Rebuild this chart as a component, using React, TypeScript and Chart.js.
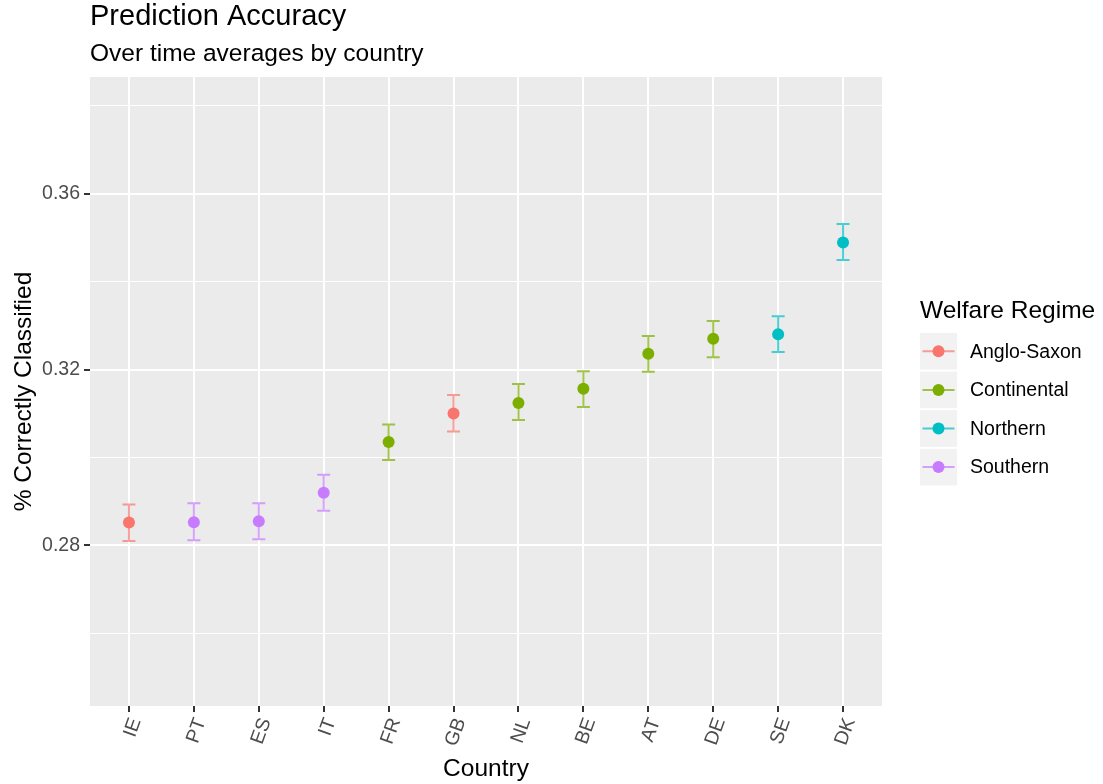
import React, { useEffect, useRef } from 'react';
import { Chart, registerables } from 'chart.js';

Chart.register(...registerables);

const countries = ['IE', 'PT', 'ES', 'IT', 'FR', 'GB', 'NL', 'BE', 'AT', 'DE', 'SE', 'DK'];
const countryRegime = ['Anglo-Saxon', 'Southern', 'Southern', 'Southern', 'Continental', 'Anglo-Saxon', 'Continental', 'Continental', 'Continental', 'Continental', 'Northern', 'Northern'];
const meanAccuracy = [0.2852, 0.2853, 0.2855, 0.2920, 0.3035, 0.3100, 0.3124, 0.3156, 0.3236, 0.3270, 0.3280, 0.3489];
const lowerAccuracy = [0.2810, 0.2812, 0.2814, 0.2879, 0.2994, 0.3059, 0.3085, 0.3115, 0.3195, 0.3228, 0.3240, 0.3449];
const upperAccuracy = [0.2893, 0.2896, 0.2896, 0.2961, 0.3075, 0.3142, 0.3167, 0.3196, 0.3276, 0.3310, 0.3321, 0.3531];
const regimes = ['Anglo-Saxon', 'Continental', 'Northern', 'Southern'];
const regimeColors = ['#F8766D', '#7CAE00', '#00BFC4', '#C77CFF'];
const yTickValues = [0.26, 0.28, 0.30, 0.32, 0.34, 0.36, 0.38];

const FONT = "'Liberation Sans', Arial, sans-serif";

function hexA(hex: string, a: number) {
  const r = parseInt(hex.slice(1, 3), 16);
  const g = parseInt(hex.slice(3, 5), 16);
  const b = parseInt(hex.slice(5, 7), 16);
  return `rgba(${r},${g},${b},${a})`;
}

const isMajor = (v: number) => Math.round(v * 100) % 4 === 0;

const ggPlugin = {
  id: 'ggPlugin',
  beforeDraw(chart: any) {
    const { ctx, chartArea: a } = chart;
    ctx.save();
    ctx.fillStyle = '#EBEBEB';
    ctx.fillRect(a.left, a.top, a.right - a.left, a.bottom - a.top);
    ctx.restore();
  },
  beforeDatasetsDraw(chart: any) {
    const { ctx } = chart;
    const xs = chart.scales.x;
    const ys = chart.scales.y;
    ctx.save();
    ctx.lineWidth = 2;
    countries.forEach((c, i) => {
      const color = regimeColors[regimes.indexOf(countryRegime[i])];
      ctx.strokeStyle = hexA(color, 0.7);
      const x = xs.getPixelForValue(i + 1);
      const yl = ys.getPixelForValue(lowerAccuracy[i]);
      const yu = ys.getPixelForValue(upperAccuracy[i]);
      ctx.beginPath();
      ctx.moveTo(x, yl);
      ctx.lineTo(x, yu);
      ctx.moveTo(x - 6.5, yl);
      ctx.lineTo(x + 6.5, yl);
      ctx.moveTo(x - 6.5, yu);
      ctx.lineTo(x + 6.5, yu);
      ctx.stroke();
    });
    ctx.restore();
  },
  afterDraw(chart: any) {
    const { ctx, chartArea: a } = chart;
    ctx.save();
    ctx.fillStyle = '#000';
    ctx.textAlign = 'left';
    ctx.textBaseline = 'alphabetic';
    ctx.font = `29px ${FONT}`;
    ctx.fillText('Prediction Accuracy', 90, 25);
    ctx.font = `24.5px ${FONT}`;
    ctx.fillText('Over time averages by country', 90, 61);

    // axis titles
    ctx.textAlign = 'center';
    ctx.fillText('Country', (a.left + a.right) / 2, 776);
    ctx.save();
    ctx.translate(31, (a.top + a.bottom) / 2);
    ctx.rotate(-Math.PI / 2);
    ctx.fillText('% Correctly Classified', 0, 0);
    ctx.restore();

    // legend
    ctx.textAlign = 'left';
    ctx.fillText('Welfare Regime', 920, 318);
    ctx.font = `19.5px ${FONT}`;
    ctx.textBaseline = 'middle';
    regimes.forEach((r, i) => {
      const top = 333 + i * 38.6;
      ctx.fillStyle = '#F2F2F2';
      ctx.fillRect(920, top, 37, 36.6);
      const cy = top + 18.3;
      ctx.strokeStyle = hexA(regimeColors[i], 0.7);
      ctx.lineWidth = 2;
      ctx.beginPath();
      ctx.moveTo(922.5, cy);
      ctx.lineTo(954.5, cy);
      ctx.stroke();
      ctx.fillStyle = regimeColors[i];
      ctx.beginPath();
      ctx.arc(938.5, cy, 6, 0, Math.PI * 2);
      ctx.fill();
      ctx.fillStyle = '#000';
      ctx.fillText(r, 970, cy + 1);
    });
    ctx.restore();
  },
};

export default function App() {
  const ref = useRef<HTMLCanvasElement | null>(null);
  useEffect(() => {
    if (!ref.current) return;
    const datasets = regimes.map((r, ri) => ({
      label: r,
      data: countries
        .map((c, i) => ({ x: i + 1, y: meanAccuracy[i], reg: countryRegime[i] }))
        .filter((p) => p.reg === r)
        .map((p) => ({ x: p.x, y: p.y })),
      backgroundColor: regimeColors[ri],
      borderColor: regimeColors[ri],
      borderWidth: 0,
      pointRadius: 6,
      pointHoverRadius: 6,
    }));
    const chart = new Chart(ref.current, {
      type: 'scatter',
      data: { datasets },
      plugins: [ggPlugin],
      options: {
        animation: false,
        responsive: false,
        devicePixelRatio: 1,
        layout: { padding: { left: 0, top: 77, right: 221, bottom: 0 } },
        plugins: {
          legend: { display: false },
          tooltip: { enabled: false },
          title: { display: false },
        },
        scales: {
          x: {
            type: 'linear',
            min: 0.4,
            max: 12.6,
            afterBuildTicks: (scale: any) => {
              scale.ticks = countries.map((_, i) => ({ value: i + 1 }));
            },
            afterFit: (scale: any) => {
              scale.height = 78;
            },
            border: { display: false },
            grid: {
              color: '#FFFFFF',
              lineWidth: 2,
              tickColor: '#333333',
              tickWidth: 2,
              tickLength: 6,
            },
            ticks: {
              autoSkip: false,
              minRotation: 70,
              maxRotation: 70,
              padding: 3,
              labelOffset: 7,
              color: '#4D4D4D',
              font: { family: FONT, size: 19.5 },
              callback: (v: any) => countries[Math.round(Number(v)) - 1] ?? '',
            },
          },
          y: {
            type: 'linear',
            min: 0.2435,
            max: 0.3865,
            afterBuildTicks: (scale: any) => {
              scale.ticks = yTickValues.map((v) => ({ value: v }));
            },
            afterFit: (scale: any) => {
              scale.width = 90;
            },
            border: { display: false },
            grid: {
              color: '#FFFFFF',
              lineWidth: (ctx: any) => (ctx.tick && isMajor(ctx.tick.value) ? 2 : 1),
              tickColor: (ctx: any) => (ctx.tick && isMajor(ctx.tick.value) ? '#333333' : 'rgba(0,0,0,0)'),
              tickWidth: 2,
              tickLength: 6,
            },
            ticks: {
              padding: 4,
              color: '#4D4D4D',
              font: { family: FONT, size: 19.5 },
              callback: (v: any) => (isMajor(Number(v)) ? Number(v).toFixed(2) : ''),
            },
          },
        },
      } as any,
    });
    return () => chart.destroy();
  }, []);
  return (
    <div style={{ position: 'absolute', left: 0, top: 0, width: 1103, height: 784, background: '#fff' }}>
      <canvas ref={ref} width={1103} height={784} style={{ width: 1103, height: 784, display: 'block' }} />
    </div>
  );
}
